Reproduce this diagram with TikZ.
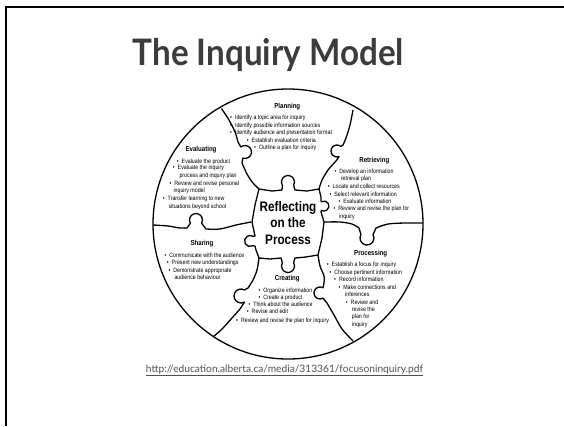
\documentclass[tikz,border=0pt]{standalone}
\usepackage{fontspec}
\setmainfont{Liberation Sans}
\newfontfamily\narrow[FakeStretch=0.85]{Liberation Sans}
\newfontfamily\gill{Lato}
\newfontfamily\gilltitle[FakeStretch=0.91]{Lato}
\usetikzlibrary{calc}
\definecolor{titlegray}{HTML}{3C3C3C}
\definecolor{urlgray}{HTML}{505050}

% jigsaw tab: centre, direction, radius
\newcommand\knob[3]{-- ($(#1)+(#2-120:#3)$) arc[start angle=#2-120, end angle=#2+120, radius=#3]}
\newcommand\knobr[3]{-- ($(#1)+(#2+120:#3)$) arc[start angle=#2+120, end angle=#2-120, radius=#3]}
\newcommand\bu{\textbullet\hspace{3pt}}

\begin{document}
\begin{tikzpicture}[x=1pt,y=-1pt,
  piece/.style={line width=1.3pt, line join=round},
  txt/.style={anchor=base west, inner sep=0pt, font=\narrow\fontsize{6.2}{7.5}\selectfont},
  head/.style={anchor=base, inner sep=0pt, font=\narrow\bfseries\fontsize{7.2}{8}\selectfont}]
  \useasboundingbox (0,0) rectangle (564,426);
  \draw[line width=2.3pt] (6.2,426) -- (6.2,7.2) -- (564,7.2);

  \node[anchor=base, inner sep=0pt, text=titlegray, font=\gilltitle\bfseries\fontsize{36.5}{40}\selectfont] (title) at (268.5,65) {The Inquiry Model};

  % outer ring and boundaries
  \draw[piece] (288,224) circle[radius=135];
  \draw[piece] plot[smooth] coordinates {(221.5,108.5) (229,120) (235,132) (238,142)} \knob{245,152}{-10}{6.5}
    -- plot[smooth] coordinates {(242,163) (247,174) (253,183) (259,189)};
  \draw[piece] plot[smooth] coordinates {(353,110) (350,125) (346,138) (343,145)} \knobr{337,151}{190}{6}
    -- plot[smooth] coordinates {(336,161) (328,170) (322,180) (319,189)};
  \draw[piece] plot[smooth] coordinates {(324,222) (340,222) (352,224) (359,228)} \knobr{367,238}{90}{7}
    -- plot[smooth] coordinates {(376,228) (388,224) (405,223) (423,223)};
  \draw[piece] plot[smooth] coordinates {(318,255) (320,266) (324,276) (324,283)} \knobr{320,293}{180}{6}
    -- plot[smooth] coordinates {(327,303) (334,315) (342,329) (353,341)};
  \draw[piece] plot[smooth] coordinates {(259,258) (257,270) (253,280) (248,288)} \knobr{241,296}{180}{7}
    -- plot[smooth] coordinates {(240,309) (232,318) (222,329) (213,337)};
  \draw[piece] plot[smooth] coordinates {(153,225) (168,226) (180,228) (187,228)} \knob{196,220}{270}{6.5}
    -- plot[smooth] coordinates {(206,229) (220,229) (236,225) (251,222)};

  % centre piece
  \draw[piece] (259,189) -- (272,191) -- (282,190) \knob{288,182}{270}{6.5} -- (295,190) -- (307,191) -- (319,189)
    -- (321,197) -- (321,201) \knob{324,206}{0}{5} -- (321,212) -- (324,222) -- (322,238) -- (318,255)
    -- (306,257) -- (295,258) \knob{288,266}{90}{6.5} -- (281,258) -- (270,259) -- (259,258)
    -- (256,250) -- (255,246) \knob{250,241}{180}{5.5} -- (255,236) -- (252,222) -- (255,205) -- cycle;
  \node[align=center, inner sep=0pt, font=\narrow\bfseries\fontsize{13.8}{16.2}\selectfont] (reflect) at (288,223) {Reflecting\\on the\\Process};

  \node[head] (planning) at (287.3,108.5) {Planning};
  \node[head] (evaluating) at (201,151) {Evaluating};
  \node[head] (retrieving) at (374.3,162.5) {Retrieving};
  \node[head] (sharing) at (202,245.8) {Sharing};
  \node[head] (processing) at (370.7,255.8) {Processing};
  \node[head] (creating) at (287.3,280.2) {Creating};

  \foreach \x/\y/\t [count=\i] in {230/119.3/{\bu Identify a topic area for inquiry},
      230/127/{\bu Identify possible information sources},
      230/134.7/{\bu Identify audience and presentation format},
      246.7/142/{\bu Establish evaluation criteria},
      254/149.7/{\bu Outline a plan for inquiry}}
    \node[txt] (plan\i) at (\x,\y) {\t};
  \foreach \x/\y/\t [count=\i] in {176.7/163/{\bu Evaluate the product},
      172.7/169.7/{\bu Evaluate the inquiry},
      179.3/177.3/{process and inquiry plan},
      169.3/185/{\bu Review and revise personal},
      173.3/192.3/{inquiry model},
      162.7/200.3/{\bu Transfer learning to new},
      168.3/208/{situations beyond school}}
    \node[txt] (eval\i) at (\x,\y) {\t};
  \foreach \x/\y/\t [count=\i] in {334.3/173/{\bu Develop an information},
      340.7/180.7/{retrieval plan},
      327.6/188.3/{\bu Locate and collect resources},
      329.3/196/{\bu Select relevant information},
      338.3/203/{\bu Evaluate information},
      333.3/210.3/{\bu Review and revise the plan for},
      339/218/{inquiry}}
    \node[txt] (retr\i) at (\x,\y) {\t};
  \foreach \x/\y/\t [count=\i] in {164.3/257/{\bu Communicate with the audience},
      166.7/264.3/{\bu Present new understandings},
      168.3/272/{\bu Demonstrate appropriate},
      174.3/279.3/{audience behaviour}}
    \node[txt] (share\i) at (\x,\y) {\t};
  \foreach \x/\y/\t [count=\i] in {326.7/266/{\bu Establish a focus for inquiry},
      329.3/274/{\bu Choose pertinent information},
      334/281.3/{\bu Record information},
      338.3/289/{\bu Make connections and},
      345/296.3/{inferences},
      345.7/304/{\bu Review and},
      351.7/311.3/{revise the},
      351.7/318.7/{plan for},
      351.7/326.3/{inquiry}}
    \node[txt] (proc\i) at (\x,\y) {\t};
  \foreach \x/\y/\t [count=\i] in {258.3/292/{\bu Organize information},
      258.3/299.3/{\bu Create a product},
      248.3/306.3/{\bu Think about the audience},
      246.7/313.7/{\bu Revise and edit},
      236/322/{\bu Review and revise the plan for inquiry}}
    \node[txt] (create\i) at (\x,\y) {\t};

  \node[anchor=base, inner sep=0pt, text=urlgray, font=\gill\fontsize{10.2}{12}\selectfont] (url) at (284.5,372) {\underline{http://education.alberta.ca/media/313361/focusoninquiry.pdf}};
\end{tikzpicture}
\end{document}
